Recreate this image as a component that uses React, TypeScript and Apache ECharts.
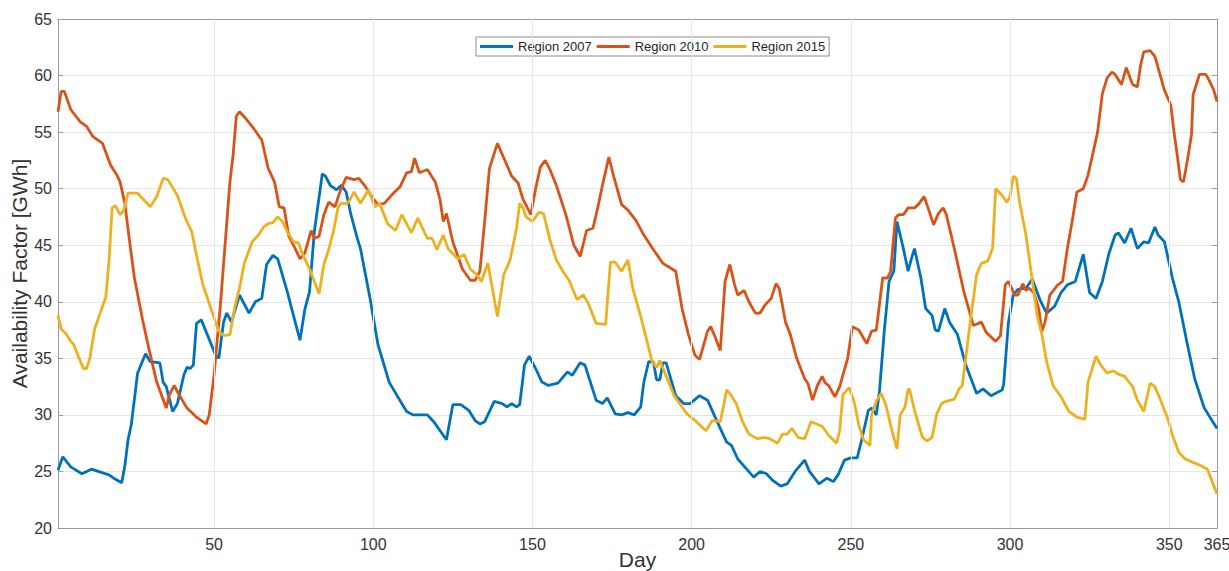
import React, { useEffect, useRef } from "react";
import * as echarts from "echarts";

const seriesNames = ["Region 2007", "Region 2010", "Region 2015"];
const seriesColors = ["#0072BD", "#D95319", "#EDB120"];
const xTickValues = [50, 100, 150, 200, 250, 300, 350, 365];
const xGridValues = [50, 100, 150, 200, 250, 300, 350];

const region2007: [number, number][] = [
  [1,25.1],[2.5,26.3],[5,25.4],[8.5,24.8],[11.5,25.2],[17,24.7],[18.5,24.4],[21,24.0],[22,25.5],[23,27.8],[24,29.1],[26,33.7],[28.5,35.4],[30,34.7],[33,34.6],[34,32.9],[35,32.5],[37,30.3],[38.5,31.0],[40.5,33.5],[41.5,34.2],[42.5,34.1],[43.5,34.4],[44.5,38.1],[46,38.4],[50.5,35.3],[51.5,35.0],[53,38.2],[54,39.0],[55.5,38.2],[58,40.6],[61,39.0],[63,40.0],[65,40.3],[66.5,43.3],[68.5,44.1],[70,43.8],[73,40.9],[75.5,38.2],[77,36.6],[78.5,39.3],[80,40.9],[81.5,46.2],[84,51.3],[85,51.1],[86.5,50.3],[88.5,49.9],[90,50.3],[91.5,49.7],[93,47.7],[95,45.6],[96,44.7],[99,40.3],[101.5,36.2],[105,32.9],[107.5,31.7],[110.5,30.3],[112.5,30.0],[117,30.0],[119,29.4],[121,28.6],[123,27.8],[125,30.9],[127.5,30.9],[130,30.4],[132,29.5],[133.5,29.2],[135,29.4],[138,31.2],[140.5,31.0],[142,30.7],[143.5,31.0],[145,30.7],[146,30.9],[147.5,34.4],[149,35.2],[151,34.1],[153,32.9],[155,32.6],[158,32.8],[161,33.8],[162.5,33.5],[165,34.6],[166.5,34.4],[170,31.3],[172,31.0],[173.5,31.5],[176,30.1],[178,30.0],[180,30.2],[182,30.0],[184,30.7],[185,32.9],[186.5,34.7],[188,34.7],[189,33.1],[190,33.1],[191,34.6],[192,34.6],[195,31.7],[197.5,31.0],[199.5,31.0],[202.5,31.7],[205,31.3],[208,29.4],[211,27.6],[212.5,27.3],[214.5,26.1],[217,25.3],[219.5,24.5],[221.5,25.0],[223.5,24.8],[225.5,24.2],[228,23.7],[230,23.9],[232.5,25.0],[235.5,26.0],[237,25.0],[240,23.9],[242.5,24.4],[244.5,24.1],[246,24.7],[248,26.0],[250,26.2],[252,26.2],[253.5,27.9],[255.5,30.4],[256.5,30.6],[258,30.0],[259,32.1],[260.5,37.4],[262,41.8],[263.5,42.7],[264.5,47.1],[266.5,44.7],[268,42.7],[269,43.8],[270,44.7],[272,42.1],[273.5,39.4],[275.5,38.8],[276.5,37.5],[277.5,37.4],[279.5,39.4],[281,38.2],[283.5,37.1],[286,34.5],[289.5,31.9],[291.5,32.3],[294,31.7],[297.5,32.2],[298,32.7],[299.5,38.2],[301,40.6],[302.5,41.1],[305,41.2],[307,42.0],[309.5,40.1],[311.5,39.0],[314,39.6],[316,40.8],[318,41.5],[320.5,41.8],[323,44.2],[325,40.8],[327,40.3],[329,41.8],[331,44.2],[333,45.9],[334,46.1],[336,45.2],[338,46.5],[340,44.7],[342,45.3],[343.5,45.2],[345.5,46.6],[346.5,45.9],[348.5,45.3],[351,42.1],[353,40.0],[355.5,36.5],[358,33.2],[361,30.6],[365,28.8]
];

const region2010: [number, number][] = [
  [1,56.8],[2,58.6],[3,58.6],[5,57.0],[8,55.9],[10,55.5],[12,54.6],[15,54.0],[17.5,52.1],[19.5,51.2],[20.5,50.6],[22,48.7],[23.5,45.3],[25,42.1],[27.5,38.5],[29.5,35.9],[32,32.9],[35,30.6],[36,31.8],[37.5,32.6],[39,31.8],[41.5,30.6],[44.5,29.8],[47.5,29.2],[48.5,30.0],[50,33.5],[52,39.7],[55,50.6],[56,53.0],[57,56.4],[58,56.8],[60,56.2],[62.5,55.3],[65,54.3],[67,51.8],[69,50.6],[70.5,48.4],[72,48.3],[73.5,45.8],[75.5,44.7],[77,43.8],[78.5,44.3],[80.5,46.3],[81.5,45.6],[83,45.8],[84.5,47.7],[86,48.8],[88,48.4],[89.5,49.7],[91.5,51.0],[94,50.8],[95.5,50.9],[97.5,50.2],[100,49.1],[101.5,48.6],[103.5,48.7],[106,49.5],[108.5,50.2],[110.5,51.4],[112,51.5],[113,52.7],[114.5,51.4],[117,51.7],[119.5,50.6],[121,49.0],[122,47.1],[123,47.8],[125,45.3],[128,42.9],[130.5,41.9],[132,41.9],[133.5,42.7],[135,47.1],[136.5,51.8],[139,54.0],[141.5,52.4],[143.5,51.1],[145.5,50.5],[147,49.1],[149.5,47.7],[151,50.0],[152.5,51.9],[154,52.5],[155.5,51.7],[157.5,50.3],[160.5,47.7],[163,45.0],[165,44.0],[167,46.3],[169,46.5],[170.5,48.3],[172,50.3],[174,52.8],[175.5,51.1],[178,48.6],[180,48.1],[182.5,47.2],[185,45.9],[188,44.6],[191,43.4],[195,42.7],[197,39.4],[199,37.1],[201,35.3],[202.5,34.9],[205,37.4],[206,37.8],[207.5,36.8],[209,35.7],[210.5,41.8],[212,43.3],[213.5,41.5],[214.5,40.6],[216.5,41.0],[218,40.0],[220,39.0],[221.5,39.0],[223,39.7],[225,40.3],[226.5,41.6],[227.5,41.2],[229.5,38.2],[231,37.1],[233,35.0],[235.5,33.2],[236.5,32.8],[238,31.3],[239.5,32.6],[241,33.4],[242,32.8],[243,32.6],[245,31.6],[246.5,32.5],[249,35.0],[250.5,37.8],[252.5,37.5],[255,36.3],[256.5,37.4],[258,37.5],[260,42.1],[261.5,42.1],[262.5,42.7],[264,47.4],[265,47.7],[266.5,47.7],[268,48.3],[270,48.3],[271.5,48.7],[273,49.3],[274.5,48.1],[276,46.8],[277.5,47.8],[279,48.3],[280,47.7],[282.5,44.7],[285.5,40.9],[288.5,37.9],[291,38.2],[292.5,37.3],[295.5,36.5],[297,37.0],[298.5,41.5],[299.5,41.8],[301.5,40.6],[302.5,40.6],[304,41.6],[305,41.0],[306,41.2],[307.5,40.8],[309,39.4],[310,37.4],[311,38.2],[312.5,40.6],[315,41.5],[316.5,41.8],[318,44.7],[319.5,47.1],[321,49.7],[323,50.0],[324.5,51.2],[327.5,55.0],[329,58.4],[330.5,59.8],[332,60.3],[333,60.1],[335,59.2],[336.5,60.7],[338.5,59.2],[340,59.0],[341,60.9],[342,62.1],[344,62.2],[345.5,61.7],[347,60.2],[348.5,58.7],[350.5,57.4],[351.5,55.0],[352.5,53.0],[353.5,50.8],[354.5,50.6],[356,53.0],[357,54.8],[357.5,58.3],[359.5,60.1],[361.5,60.1],[362.5,59.6],[364,58.7],[365,57.7]
];

const region2015: [number, number][] = [
  [1,38.8],[2,37.6],[3.5,37.2],[5,36.5],[6,36.2],[7.5,35.1],[9,34.1],[10,34.1],[11,35.0],[12.5,37.6],[14,38.8],[16,40.4],[17,43.5],[18,48.3],[19,48.5],[20.5,47.7],[21.5,48.0],[23,49.6],[24.5,49.6],[26,49.6],[28,49.0],[30,48.4],[32,49.3],[34,50.9],[35.5,50.8],[38.5,49.4],[41,47.4],[43,46.2],[44.5,44.1],[46.5,41.5],[50,38.6],[51.5,37.4],[53,37.0],[55,37.1],[56.5,39.5],[58,41.2],[59.5,43.4],[62,45.3],[64,45.9],[65.5,46.6],[67,46.9],[68.5,47.0],[70,47.5],[71.5,47.1],[73,46.2],[75,45.3],[76.5,45.2],[78,44.1],[80,42.9],[81.5,41.8],[83,40.7],[84.5,43.3],[86,44.6],[87.5,46.2],[89,48.4],[90,48.7],[92,48.7],[94,49.7],[96,48.7],[98.5,49.9],[100.5,48.4],[102,48.7],[104.5,46.9],[107,46.3],[109,47.7],[112,46.1],[114,47.4],[117,45.6],[118.5,45.6],[120,44.6],[122,45.9],[123.5,44.7],[126.5,43.8],[128.5,44.2],[130.5,42.9],[132.5,42.4],[134,41.8],[136,43.4],[139,38.7],[141,42.4],[143,43.7],[145,46.5],[146,48.7],[147,48.3],[148,47.5],[150,47.1],[152,47.9],[153.5,47.8],[155.5,45.5],[157.5,43.7],[160,42.5],[161.5,41.9],[164,40.2],[166,40.6],[167.5,39.9],[170,38.1],[173,38.0],[174.5,43.5],[176,43.5],[178,42.7],[180,43.7],[181.5,41.2],[184,38.7],[186,36.5],[187.5,34.8],[189,34.2],[190,34.8],[191.5,33.8],[194.5,31.7],[196.5,30.9],[198.5,30.1],[201.5,29.4],[204.5,28.6],[206.5,29.5],[209,29.4],[211,32.2],[212,31.9],[214,31.0],[216,29.4],[218,28.3],[220.5,27.9],[223,28.0],[224.5,27.9],[227,27.5],[228.5,28.3],[230,28.3],[231.5,28.8],[233.5,28.0],[235.5,27.9],[237.5,29.4],[240,29.1],[241,29.0],[243,28.2],[245.5,27.5],[246.5,28.6],[247.5,31.8],[249.5,32.4],[251,31.2],[252.5,29.1],[254,27.8],[256,27.3],[256.5,30.0],[258,31.2],[259.5,31.9],[261,30.9],[263,28.5],[264.5,27.0],[265.5,30.0],[267,30.7],[268,32.3],[268.5,32.2],[270,30.4],[272.5,28.0],[274,27.7],[275.5,28.0],[277,30.1],[278.5,31.0],[280,31.2],[282.5,31.4],[284,32.3],[285,32.6],[286,34.8],[287.5,38.2],[289.5,42.4],[291,43.4],[293,43.6],[294.5,44.7],[295.5,50.0],[296.5,49.7],[297.5,49.4],[299,48.8],[300,49.3],[301,51.1],[302,50.9],[303,48.8],[305,45.9],[306.5,42.9],[308.5,38.8],[310,37.1],[311.5,34.7],[313.5,32.6],[316,31.6],[318.5,30.3],[321,29.8],[323.5,29.6],[324.5,32.9],[327,35.2],[328.5,34.4],[330.5,33.7],[332.5,33.9],[334,33.6],[336,33.4],[338.5,32.5],[340,31.3],[342,30.3],[344,32.8],[345.5,32.5],[347,31.5],[349.5,29.7],[351,28.2],[353,26.7],[355,26.1],[357.5,25.8],[360,25.5],[362,25.2],[363.5,24.1],[365,23.0]
];

const allSeries = [region2007, region2010, region2015];

export default function App() {
  const ref = useRef<HTMLDivElement>(null);
  useEffect(() => {
    if (!ref.current) return;
    const chart = echarts.init(ref.current, null, { renderer: "svg" });
    const font = "'Liberation Sans', Arial, Helvetica, sans-serif";
    const frameColor = "#9a9a9a";
    const textColor = "#333333";
    const tickCommon = { show: true, inside: true, length: 5, lineStyle: { color: frameColor } };
    chart.setOption({
      animation: false,
      backgroundColor: "#ffffff",
      textStyle: { fontFamily: font },
      grid: { left: 58, right: 12, top: 19, bottom: 43, show: false, containLabel: false, outerBoundsMode: "none" },
      legend: {
        data: seriesNames,
        left: 476,
        top: 37,
        icon: "rect",
        itemWidth: 33,
        itemHeight: 3,
        itemGap: 5,
        padding: [3, 4],
        backgroundColor: "#ffffff",
        borderColor: "#8a8a8a",
        borderWidth: 1,
        borderRadius: 0,
        textStyle: { fontSize: 13, color: "#262626", fontFamily: font },
      },
      xAxis: [
        {
          type: "value",
          min: 1,
          max: 365,
          position: "bottom",
          axisLine: { show: true, onZero: false, lineStyle: { color: frameColor, width: 1 } },
          axisTick: { ...tickCommon, customValues: xTickValues },
          axisLabel: { customValues: xTickValues, fontSize: 16, color: textColor, margin: 8, fontFamily: font },
          splitLine: { show: false },
          name: "Day",
          nameLocation: "middle",
          nameGap: 21,
          nameMoveOverlap: false,
          nameTextStyle: { fontSize: 21, color: textColor, fontFamily: font },
        },
        {
          type: "value",
          min: 1,
          max: 365,
          position: "top",
          axisLine: { show: true, onZero: false, lineStyle: { color: frameColor, width: 1 } },
          axisTick: { ...tickCommon, customValues: xTickValues },
          axisLabel: { show: false, customValues: xTickValues },
          splitLine: { show: false },
        },
      ],
      yAxis: [
        {
          type: "value",
          min: 20,
          max: 65,
          interval: 5,
          position: "left",
          axisLine: { show: true, onZero: false, lineStyle: { color: frameColor, width: 1 } },
          axisTick: tickCommon,
          axisLabel: { fontSize: 16, color: textColor, margin: 6, fontFamily: font },
          splitLine: { show: true, lineStyle: { color: "#e6e6e6", width: 1 } },
          name: "Availability Factor [GWh]",
          nameLocation: "middle",
          nameGap: 28,
          nameMoveOverlap: false,
          nameTextStyle: { fontSize: 21, color: textColor, fontFamily: font },
        },
        {
          type: "value",
          min: 20,
          max: 65,
          interval: 5,
          position: "right",
          axisLine: { show: true, onZero: false, lineStyle: { color: frameColor, width: 1 } },
          axisTick: tickCommon,
          axisLabel: { show: false },
          splitLine: { show: false },
        },
      ],
      series: [
        {
          name: "grid-x",
          type: "line",
          data: [],
          z: 1,
          silent: true,
          markLine: {
            silent: true,
            symbol: ["none", "none"],
            label: { show: false },
            lineStyle: { color: "#e6e6e6", width: 1, type: "solid" },
            data: xGridValues.map((v) => ({ xAxis: v })),
          },
        },
        ...allSeries.map((d, i) => ({
          name: seriesNames[i],
          type: "line",
          data: d,
          showSymbol: false,
          symbol: "none",
          z: 3,
          lineStyle: { color: seriesColors[i], width: 2.8 },
          itemStyle: { color: seriesColors[i] },
        })),
      ],
    });
    return () => chart.dispose();
  }, []);
  return (
    <div
      ref={ref}
      style={{ position: "absolute", left: 0, top: 0, width: 1229, height: 571 }}
    />
  );
}
